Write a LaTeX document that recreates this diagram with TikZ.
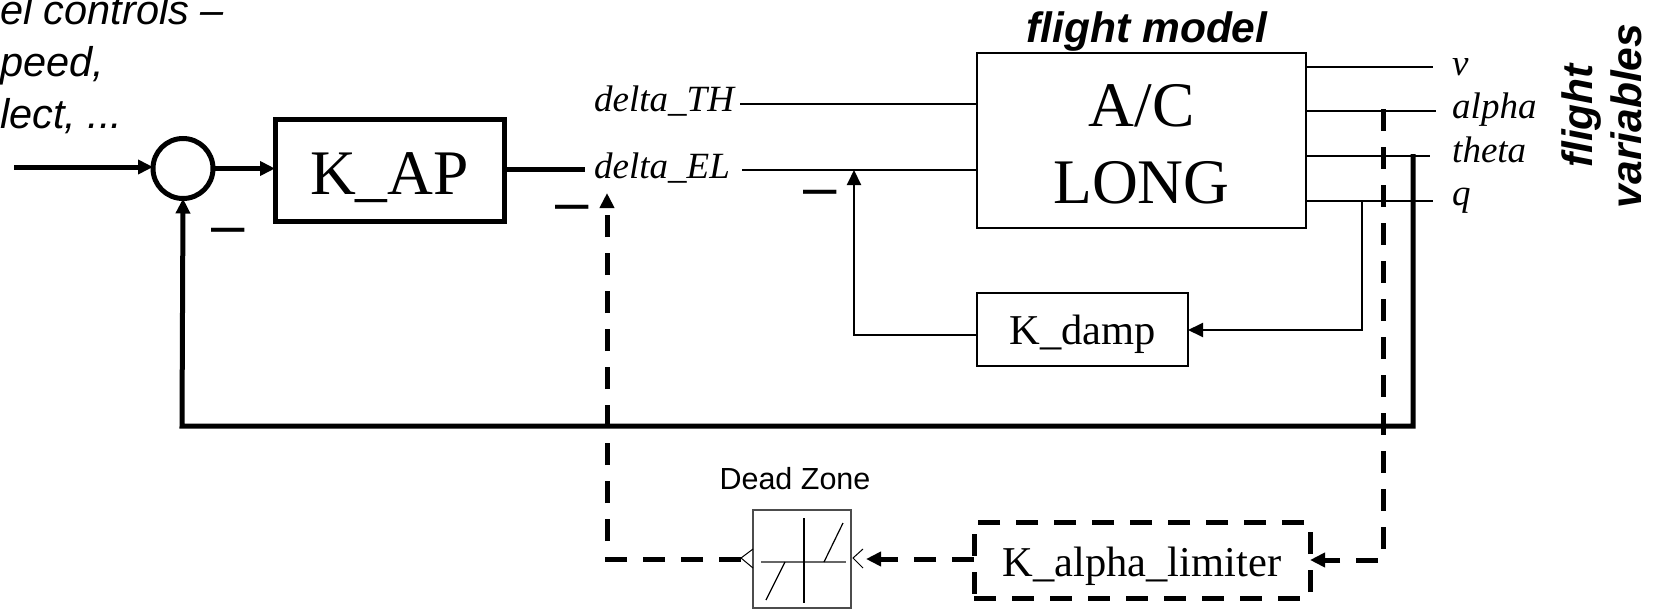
\documentclass[tikz,border=0pt]{standalone}
\usepackage{fontspec}
\setmainfont{Liberation Serif}
\setsansfont{Liberation Sans}
\usetikzlibrary{arrows.meta, positioning}
\tikzset{
	thinbox/.style={draw=black, line width=2pt, inner sep=0pt, outer sep=0pt},
	boldbox/.style={draw=black, line width=5pt, inner sep=0pt, outer sep=0pt},
	thinline/.style={line width=2pt},
	boldline/.style={line width=5pt},
	dashline/.style={line width=5pt, dash pattern=on 22pt off 16pt},
	tip/.style={-{Triangle[length=15pt,width=14pt]}},
	bigtext/.style={font=\fontsize{63.5}{77}\selectfont, align=center},
	midtext/.style={font=\fontsize{42.5}{50}\selectfont},
	sigtext/.style={font=\fontsize{37}{44}\selectfont\itshape, inner sep=0pt, anchor=base west},
	notetext/.style={font=\fontsize{41.5}{52}\selectfont\sffamily\itshape, inner sep=0pt},
	headtext/.style={font=\fontsize{42.5}{49}\selectfont\sffamily\bfseries\itshape, inner sep=0pt},
	minustext/.style={font=\fontsize{60}{60}\selectfont\sffamily, inner sep=0pt}
}
\begin{document}
\begin{tikzpicture}[x=1pt, y=-1pt]
	\useasboundingbox (0,0) rectangle (1657,610);
	% blocks
	\node[boldbox, circle, minimum size=60pt] (sum) at (183,168.5) {};
	\node[boldbox, minimum width=229pt, minimum height=102pt, bigtext, text height=47pt, text depth=0pt] (kap) at (389.5,170.5) {K\_AP};
	\node[thinbox, minimum width=329pt, minimum height=175pt, bigtext] (acl) at (1141.5,140.5) {\rule{0pt}{50pt}A/C\\LONG};
	\node[thinbox, minimum width=211pt, minimum height=73pt, midtext, text height=30pt, text depth=0pt] (kdamp) at (1082.5,329) {K\_damp};
	\node[draw=black, dashline, inner sep=0pt, outer sep=0pt, minimum width=336pt, minimum height=76pt, midtext, text height=33pt, text depth=0pt] (klimit) at (1142,560) {K\_alpha\_limiter};
	\node[thinbox, draw=black!70, minimum width=98pt, minimum height=98pt] (dead) at (802,559) {};
	% labels
	\node[sigtext] (dth) at (594,111) {delta\_TH};
	\node[sigtext] (del) at (594,178) {delta\_EL};
	\node[sigtext] (lv) at (1452,75) {v};
	\node[sigtext] (lalpha) at (1452,118) {alpha};
	\node[sigtext] (ltheta) at (1452,162) {theta};
	\node[sigtext] (lq) at (1452,205) {q};
	\node[headtext] (hmodel) at (1147,32) {flight model};
	\node[headtext, rotate=90, align=center] (hvars) at (1601.5,116) {flight\\variables};
	\node[notetext, anchor=north west, align=left] (hnote) at (0,-6) {el controls --\\peed,\\lect, ...};
	\node[font=\fontsize{30.5}{36}\selectfont\sffamily, inner sep=0pt] (hdead) at (795,479) {Dead Zone};
	\node[minustext] (m1) at (228,237) {--};
	\node[minustext] (m2) at (572,213.5) {--};
	\node[minustext] (m3) at (820,199) {--};
	% free ends
	\coordinate (src) at (14,167);
	\coordinate (kout) at (585,169);
	\coordinate (thin) at (740,104);
	\coordinate (elin) at (742,170);
	\coordinate (vout) at (1433,67);
	\coordinate (aout) at (1436,111);
	\coordinate (tout) at (1430,156);
	\coordinate (qout) at (1433,201);
	\coordinate (qtap) at (1362,201);
	\coordinate (qbend) at (1362,330);
	\coordinate (atap) at (1383,109);
	\coordinate (ttap) at (1413,154);
	\coordinate (dampout) at (854,335);
	\coordinate (deadin) at (866,559);
	\coordinate (deadout) at (741,559);
	% bold loop
	\draw[boldline, tip] (src) -- (sum.west |- src);
	\draw[boldline, tip] (sum.east) -- (kap.west |- sum.east);
	\draw[boldline] (kap.east |- kout) -- (kout);
	\draw[boldline, tip] (ttap) -- (1413,426) -- (182,426) -- (sum.south);
	% thin signals
	\draw[thinline] (thin) -- (acl.west |- thin);
	\draw[thinline] (elin) -- (acl.west |- elin);
	\draw[thinline] (acl.east |- vout) -- (vout);
	\draw[thinline] (acl.east |- aout) -- (aout);
	\draw[thinline] (acl.east |- tout) -- (tout);
	\draw[thinline] (acl.east |- qout) -- (qout);
	\draw[thinline, tip] (qtap) -- (qbend) -- (kdamp.east |- qbend);
	\draw[thinline, tip] (kdamp.west |- dampout) -- (dampout) -- (854,170);
	% limiter path
	\draw[dashline, tip] (atap) -- (1383,560) -- (klimit.east);
	\draw[dashline, tip] (klimit.west |- deadin) -- (deadin);
	\draw[dashline, tip] (deadout) -- (607,559) -- (607,193);
	% dead zone glyph
	\draw[line width=1.5pt, black!60] (761,562) -- (846,562);
	\draw[line width=1.2pt] (804,518) -- (804,603);
	\draw[line width=1.2pt] (766,600) -- (785,562);
	\draw[line width=1.2pt] (824,562) -- (843,523);
	\draw[line width=1pt] (753,549) -- (741,558) -- (753,568);
	\draw[line width=1pt] (863,549) -- (853,558) -- (863,568);
\end{tikzpicture}
\end{document}
